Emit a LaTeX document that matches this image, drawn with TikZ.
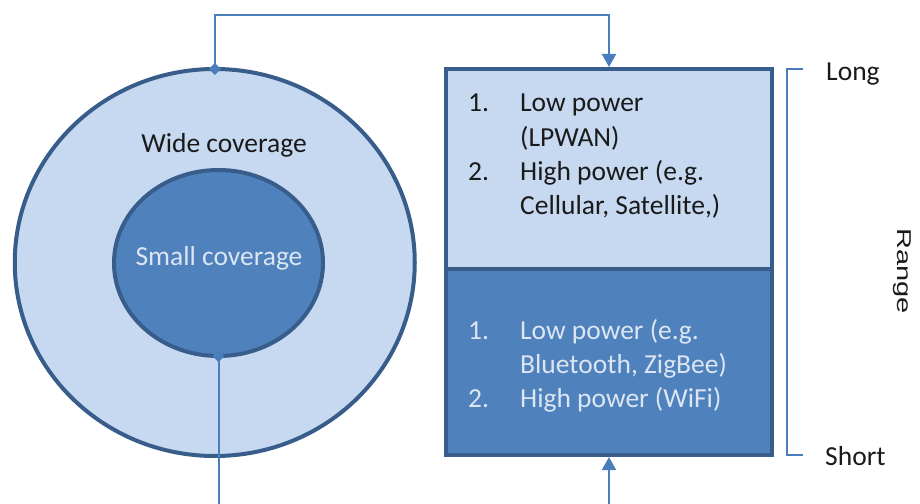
\documentclass[tikz,border=0pt]{standalone}
\usepackage{fontspec}
\setmainfont{Carlito}
\newfontfamily\rangefont{Liberation Sans}
\usetikzlibrary{shapes.geometric,arrows.meta}
\definecolor{paleblue}{HTML}{C6D9F1}
\definecolor{midblue}{HTML}{4F81BD}
\definecolor{edgeblue}{HTML}{385D8A}
\definecolor{linkblue}{HTML}{4A7EBB}
\definecolor{inktext}{HTML}{1A1A1A}
\definecolor{lighttext}{HTML}{DCE6F2}
\def\listfont{\fontsize{27.5}{34.4}\selectfont}
\tikzset{
	zone/.style={ellipse, draw=edgeblue, line width=4pt, inner sep=0pt},
	panel/.style={rectangle, draw=edgeblue, line width=4pt, inner sep=0pt, minimum width=326pt},
	words/.style={anchor=base, inner sep=0pt, font=\listfont},
	listing/.style={anchor=base west, inner sep=0pt, font=\listfont},
	link/.style={draw=linkblue, line width=2pt, shorten <=-8pt, {Turned Square[width=12pt,length=12pt]}-{Triangle[width=14pt,length=13pt]}},
	brace/.style={draw=linkblue, line width=1.6pt}
}

\begin{document}
\begin{tikzpicture}[x=1pt, y=-1pt]
	%%%%% START %%%%%
	\useasboundingbox (0,0) rectangle (920,503);

	\node[zone, fill=paleblue, minimum width=400pt, minimum height=387pt] (wide) at (214.75,262.5) {};
	\node[zone, fill=midblue, minimum width=209pt, minimum height=186pt] (small) at (218.5,263) {};
	\node[words, text=inktext] (widetext) at (224,152) {Wide coverage};
	\node[words, text=lighttext] (smalltext) at (219,265) {Small coverage};

	\node[panel, fill=paleblue, minimum height=200pt] (longbox) at (609,169) {};
	\node[panel, fill=midblue, minimum height=186pt] (shortbox) at (609,362) {};

	\node[listing, text=inktext] (longlist) at (468,111.7) {\begin{tabular}[t]{@{}p{52pt}@{}l@{}}
		1. & Low power\\
		   & (LPWAN)\\
		2. & High power (e.g.\\
		   & Cellular, Satellite,)
	\end{tabular}};
	\node[listing, text=lighttext] (shortlist) at (468,339) {\begin{tabular}[t]{@{}p{52pt}@{}l@{}}
		1. & Low power (e.g.\\
		   & Bluetooth, ZigBee)\\
		2. & High power (WiFi)
	\end{tabular}};

	% range scale
	\coordinate (longend) at (803,69);
	\coordinate (shortend) at (803,455);
	\draw[brace] (longend) -- ++(-16,0) |- (shortend);
	\node[listing, text=inktext] (longword) at (826,80) {Long};
	\node[listing, text=inktext] (shortword) at (825,465) {Short};
	\node[rotate=-90, anchor=base, inner sep=0pt, text=inktext, font=\rangefont\fontsize{20}{24}\selectfont] (rangeword) at (897,271) {\scalebox{1.45}[1]{Range}};

	% connectors
	\draw[link] (wide.north) -- ++(0,-52) -| (longbox.north);
	\draw[link] (small.south) -- ++(0,152) -| (shortbox.south);

	%%%%% END %%%%%
\end{tikzpicture}
\end{document}
